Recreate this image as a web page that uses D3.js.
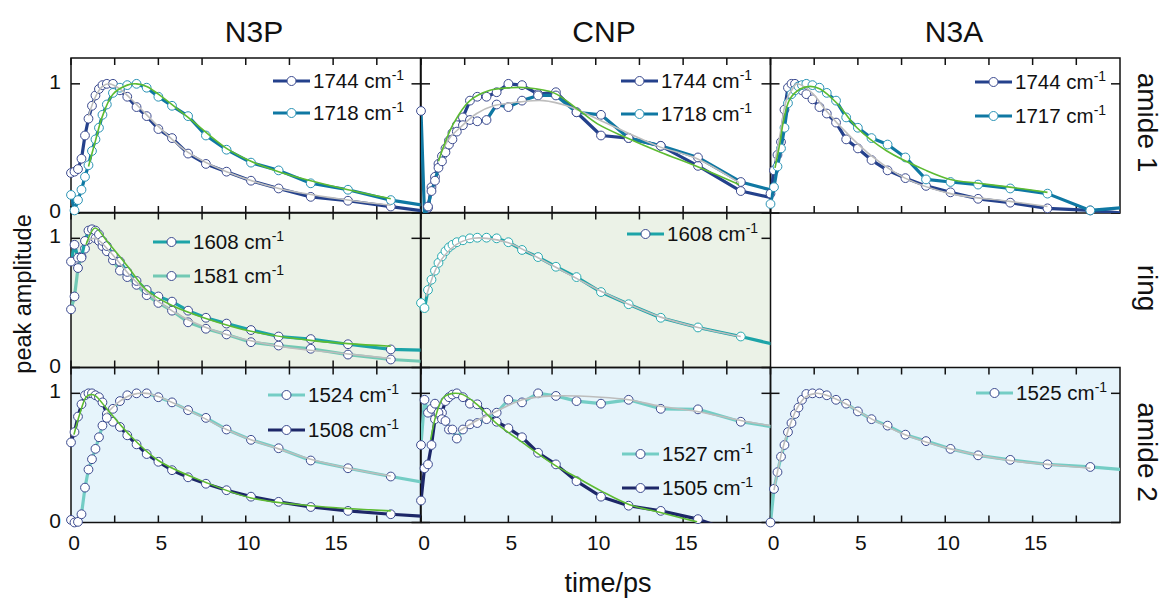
<!DOCTYPE html>
<html>
<head>
<meta charset="utf-8">
<script src="https://cdn.jsdelivr.net/npm/d3@7"></script>
<style>
  body { margin: 0; background: #fff; }
  text { font-family: "Liberation Sans", Arial, Helvetica, sans-serif; fill: #111; }
</style>
</head>
<body>
<div id="chart"></div>
<script>
// shared delay grid (ps)
const times = [0, 0.2, 0.4, 0.6, 0.8, 1.0, 1.2, 1.4, 1.6, 1.8, 2.05, 2.4, 2.8, 3.22, 3.75, 4.33, 5.0, 5.78, 6.7, 7.72, 8.9, 10.3, 11.88, 13.72, 15.85, 18.3, 21.1];

const colTitles = ["N3P", "CNP", "N3A"];
const rowTitles = ["amide 1", "ring", "amide 2"];
const xTicks = [0, 2.5, 5, 7.5, 10, 12.5, 15, 17.5];
const xTickLabels = [0, 5, 10, 15];
const yTickLabels = [0, 1];

// N3P amide 1
const n3pA1_1744 = [0.31, 0.32, 0.34, 0.42, 0.6, 0.73, 0.83, 0.91, 0.96, 0.99, 1.0, 1.0, 0.95, 0.9, 0.82, 0.75, 0.65, 0.58, 0.46, 0.38, 0.32, 0.25, 0.19, 0.125, 0.095, 0.05, 0.0];
const n3pA1_1718 = [0.14, 0.02, 0.1, 0.18, 0.28, 0.37, 0.48, 0.57, 0.66, 0.76, 0.84, 0.93, 0.97, 0.99, 1.0, 0.97, 0.9, 0.83, 0.75, 0.6, 0.49, 0.39, 0.33, 0.23, 0.18, 0.1, 0.04];
const n3pA1FitGrayT = [1.0, 1.4, 1.8, 2.2, 2.8, 3.75, 5.0, 6.7, 8.9, 11.9, 15.85, 18.3];
const n3pA1FitGrayV = [0.75, 0.9, 0.98, 1.0, 0.96, 0.84, 0.67, 0.47, 0.32, 0.19, 0.1, 0.06];
const n3pA1FitGreenT = [1.0, 1.4, 1.8, 2.4, 3.22, 3.75, 4.33, 5.0, 6.7, 8.9, 10.3, 11.88, 13.72, 15.85, 18.3];
const n3pA1FitGreenV = [0.36, 0.56, 0.75, 0.92, 0.99, 1.0, 0.98, 0.92, 0.74, 0.5, 0.4, 0.32, 0.25, 0.18, 0.11];

// CNP amide 1
const cnpA1_1744 = [null, -0.05, 0.04, 0.2, 0.28, 0.38, 0.44, 0.5, 0.56, 0.62, 0.68, 0.74, 0.87, 0.9, 0.9, 0.935, 1.0, 0.99, 0.92, 0.935, 0.78, 0.6, 0.58, 0.52, 0.365, 0.17, 0.087];
const cnpA1_1718 = [0.79, -0.02, 0.05, 0.17, 0.25, 0.35, 0.4, 0.47, 0.53, 0.57, 0.63, 0.68, 0.72, 0.71, 0.72, 0.84, 0.82, 0.87, 0.91, 0.91, 0.78, 0.76, 0.58, 0.52, 0.43, 0.24, 0.14];
const cnpA1FitGreenT = [1.0, 1.28, 1.85, 2.8, 3.95, 5.1, 6.05, 7.6, 8.9, 10.1, 11.8, 13.7, 15.8, 18.2];
const cnpA1FitGreenV = [0.4, 0.51, 0.69, 0.87, 0.95, 0.97, 0.97, 0.93, 0.81, 0.69, 0.58, 0.47, 0.36, 0.22];
const cnpA1FitGrayT = [1.2, 1.66, 2.23, 3.19, 4.15, 5.67, 7.0, 8.35, 10.3, 12.0, 13.7, 15.8, 18.2];
const cnpA1FitGrayV = [0.48, 0.585, 0.66, 0.77, 0.83, 0.86, 0.87, 0.83, 0.715, 0.61, 0.51, 0.42, 0.235];

// N3A amide 1
const n3aA1_1744 = [0.15, 0.33, 0.45, 0.55, 0.8, 0.97, 1.0, 1.0, 0.98, 0.95, 0.92, 0.88, 0.82, 0.77, 0.7, 0.57, 0.5, 0.41, 0.33, 0.27, 0.21, 0.16, 0.11, 0.08, 0.036, 0.02, -0.01];
const n3aA1_1717 = [0.07, 0.2, 0.36, 0.5, 0.66, 0.85, 0.92, 0.95, 0.98, 0.99, 1.0, 0.99, 0.97, 0.93, 0.87, 0.74, 0.66, 0.58, 0.53, 0.43, 0.26, 0.24, 0.22, 0.19, 0.15, 0.02, 0.053];
const n3aA1FitGrayT = [0.26, 0.55, 0.9, 1.3, 1.5, 1.9, 2.45, 3.2, 4.36, 5.8, 7.7, 10.3, 13.7, 15.85];
const n3aA1FitGrayV = [0.4, 0.61, 0.87, 0.97, 1.0, 0.98, 0.92, 0.79, 0.62, 0.44, 0.27, 0.15, 0.09, 0.05];
const n3aA1FitGreenT = [0.26, 0.55, 0.74, 1.1, 1.7, 2.26, 2.84, 3.8, 4.95, 6.66, 8.9, 10.3, 11.9, 13.7, 15.85];
const n3aA1FitGreenV = [0.35, 0.55, 0.71, 0.88, 0.96, 0.98, 0.96, 0.85, 0.66, 0.48, 0.33, 0.26, 0.23, 0.2, 0.16];

// N3P ring
const n3pR_1608 = [0.82, 0.95, 0.85, 0.85, 0.98, 1.06, 1.07, 1.06, 1.03, 0.98, 0.94, 0.87, 0.82, 0.74, 0.67, 0.6, 0.55, 0.51, 0.44, 0.385, 0.34, 0.29, 0.24, 0.22, 0.18, 0.14, 0.13];
const n3pR_1581 = [0.45, 0.55, 0.77, 0.86, 0.92, 0.99, 1.02, 1.0, 0.98, 0.94, 0.9, 0.83, 0.75, 0.7, 0.64, 0.56, 0.5, 0.44, 0.35, 0.3, 0.256, 0.196, 0.17, 0.145, 0.1, 0.062, 0.04];
const n3pRFitGreenT = [0.86, 1.38, 2.05, 3.2, 4.33, 5.78, 7.72, 10.3, 13.7, 15.85, 18.3];
const n3pRFitGreenV = [0.95, 1.08, 0.98, 0.79, 0.6, 0.48, 0.38, 0.28, 0.21, 0.185, 0.165];
const n3pRFitGrayT = [0.9, 1.38, 2.2, 3.6, 5.0, 6.7, 8.9, 11.9, 15.85, 18.3];
const n3pRFitGrayV = [0.97, 1.0, 0.9, 0.68, 0.51, 0.37, 0.256, 0.165, 0.105, 0.07];

// CNP ring
const cnpR_1608 = [0.5, 0.46, 0.6, 0.68, 0.75, 0.81, 0.86, 0.9, 0.93, 0.95, 0.97, 0.985, 1.0, 1.005, 1.005, 1.0, 0.97, 0.91, 0.855, 0.78, 0.7, 0.584, 0.49, 0.385, 0.31, 0.24, 0.15];
const cnpRFitGrayT = [0.3, 1.0, 2.0, 3.0, 3.75, 5.0, 6.7, 8.9, 10.3, 11.88, 13.72, 15.85, 18.3];
const cnpRFitGrayV = [0.55, 0.8, 0.95, 1.0, 1.0, 0.965, 0.85, 0.69, 0.59, 0.49, 0.39, 0.31, 0.24];

// N3P amide 2
const n3pA2_1524 = [0.02, 0.0, 0.005, 0.064, 0.27, 0.41, 0.49, 0.57, 0.66, 0.75, 0.81, 0.88, 0.94, 0.985, 1.0, 1.0, 0.97, 0.93, 0.87, 0.81, 0.72, 0.64, 0.575, 0.48, 0.42, 0.356, 0.29];
const n3pA2_1508 = [0.62, 0.7, 0.82, 0.915, 0.985, 1.0, 1.0, 0.985, 0.97, 0.93, 0.84, 0.78, 0.74, 0.675, 0.605, 0.53, 0.47, 0.405, 0.35, 0.3, 0.25, 0.2, 0.16, 0.12, 0.09, 0.064, 0.04];
const n3pA2FitGreenT = [0.17, 0.5, 0.86, 1.1, 1.4, 2.05, 3.2, 5.0, 7.72, 10.3, 13.7, 18.3];
const n3pA2FitGreenV = [0.68, 0.84, 0.97, 0.99, 0.98, 0.88, 0.7, 0.48, 0.31, 0.19, 0.13, 0.09];
const n3pA2FitGrayT = [2.0, 2.8, 3.5, 4.33, 5.0, 6.7, 8.9, 10.3, 11.88, 13.72, 15.85, 18.3];
const n3pA2FitGrayV = [0.84, 0.94, 0.99, 1.0, 0.975, 0.87, 0.72, 0.64, 0.57, 0.49, 0.42, 0.36];

// CNP amide 2
const cnpA2_1527 = [0.6, 0.95, 0.85, 0.88, 0.92, 0.85, 0.8, 0.786, 0.72, 0.72, 0.65, 0.72, 0.76, 0.77, 0.8, 0.85, 0.95, 0.93, 1.0, 0.98, 0.94, 0.92, 0.95, 0.88, 0.876, 0.78, 0.72];
const cnpA2_1505 = [0.17, 0.42, 0.45, 0.6, 0.8, 0.84, 0.85, 0.94, 0.97, 0.99, 1.0, 0.97, 0.92, 0.915, 0.85, 0.78, 0.73, 0.66, 0.54, 0.45, 0.32, 0.2, 0.13, 0.09, 0.026, -0.09, -0.2];
const cnpA2FitGreenT = [0.55, 0.9, 1.3, 1.85, 2.4, 3.2, 4.3, 5.8, 7.7, 8.9, 10.3, 11.9, 13.7, 15.8];
const cnpA2FitGreenV = [0.64, 0.85, 0.97, 1.0, 0.99, 0.915, 0.77, 0.62, 0.44, 0.35, 0.245, 0.14, 0.077, 0.005];
const cnpA2FitGrayT = [2.2, 3.2, 4.3, 5.8, 7.6, 10.3, 11.9, 13.7, 15.8, 18.3, 20];
const cnpA2FitGrayV = [0.71, 0.79, 0.86, 0.95, 0.98, 0.97, 0.95, 0.9, 0.86, 0.79, 0.75];

// N3A amide 2
const n3aA2_1525 = [0, 0.26, 0.39, 0.51, 0.6, 0.7, 0.77, 0.84, 0.89, 0.95, 0.995, 1.0, 1.0, 0.985, 0.95, 0.92, 0.86, 0.8, 0.75, 0.68, 0.63, 0.57, 0.52, 0.485, 0.45, 0.43, 0.4];
const n3aA2FitGrayT = [0.2, 0.6, 1.0, 1.5, 2.0, 2.6, 3.2, 4.3, 5.8, 7.7, 10.3, 13.7, 15.85, 18.3];
const n3aA2FitGrayV = [0.25, 0.52, 0.71, 0.88, 0.97, 1.0, 0.985, 0.92, 0.8, 0.68, 0.57, 0.48, 0.45, 0.42];

// colours
const c1744 = "#24418c", c1718 = "#0f78a3", c1608 = "#1ca4a8", c1581 = "#72c9b4",
    c1524 = "#74cdc5", c1508 = "#1d2768", cGreen = "#5dbb32", cGray = "#bdbdbd",
    cNavyMk = "#3b4a8f", cTealMk = "#2a93b5", cRingMk = "#2aaab0";
const bgRing = "#ebf2e7", bgAmide2 = "#e6f4fb";

const W = 1166, H = 601;
const colX = [71, 421, 770.5], colW = 349.5;
const rowY = [58, 212.5, 367.5], rowH = 155;

function zip(t, v) {
    return t.map(function (d, i) { return [d, v[i]]; });
}

var panels = [
    {col: 0, row: 0, bg: "#fff",
        series: [{v: n3pA1_1744, color: c1744, mk: cNavyMk}, {v: n3pA1_1718, color: c1718, mk: cTealMk}],
        fits: [{d: zip(n3pA1FitGrayT, n3pA1FitGrayV), color: cGray}, {d: zip(n3pA1FitGreenT, n3pA1FitGreenV), color: cGreen}],
        legend: {x: 273, y: [81, 113], items: [["1744", c1744, cNavyMk], ["1718", c1718, cTealMk]]}},
    {col: 1, row: 0, bg: "#fff",
        series: [{v: cnpA1_1744, color: c1744, mk: cNavyMk}, {v: cnpA1_1718, color: c1718, mk: cNavyMk}],
        fits: [{d: zip(cnpA1FitGrayT, cnpA1FitGrayV), color: cGray}, {d: zip(cnpA1FitGreenT, cnpA1FitGreenV), color: cGreen}],
        legend: {x: 621, y: [81, 114], items: [["1744", c1744, cNavyMk], ["1718", c1718, cTealMk]]}},
    {col: 2, row: 0, bg: "#fff",
        series: [{v: n3aA1_1744, color: c1744, mk: cNavyMk}, {v: n3aA1_1717, color: c1718, mk: cTealMk}],
        fits: [{d: zip(n3aA1FitGrayT, n3aA1FitGrayV), color: cGray}, {d: zip(n3aA1FitGreenT, n3aA1FitGreenV), color: cGreen}],
        legend: {x: 975, y: [82, 116], items: [["1744", c1744, cNavyMk], ["1717", c1718, cTealMk]]}},
    {col: 0, row: 1, bg: bgRing,
        series: [{v: n3pR_1581, color: c1581, mk: cNavyMk}, {v: n3pR_1608, color: c1608, mk: cNavyMk}],
        fits: [{d: zip(n3pRFitGrayT, n3pRFitGrayV), color: cGray}, {d: zip(n3pRFitGreenT, n3pRFitGreenV), color: cGreen}],
        legend: {x: 153, y: [242, 276], items: [["1608", c1608, cNavyMk], ["1581", c1581, cNavyMk]]}},
    {col: 1, row: 1, bg: bgRing,
        series: [{v: cnpR_1608, color: c1608, mk: cRingMk}],
        fits: [{d: zip(cnpRFitGrayT, cnpRFitGrayV), color: cGray}],
        legend: {x: 627, y: [234], items: [["1608", c1608, cNavyMk]]}},
    {col: 0, row: 2, bg: bgAmide2,
        series: [{v: n3pA2_1508, color: c1508, mk: cNavyMk}, {v: n3pA2_1524, color: c1524, mk: cNavyMk}],
        fits: [{d: zip(n3pA2FitGrayT, n3pA2FitGrayV), color: cGray}, {d: zip(n3pA2FitGreenT, n3pA2FitGreenV), color: cGreen}],
        legend: {x: 268, y: [395, 430], items: [["1524", c1524, cNavyMk], ["1508", c1508, cNavyMk]]}},
    {col: 1, row: 2, bg: bgAmide2,
        series: [{v: cnpA2_1505, color: c1508, mk: cNavyMk}, {v: cnpA2_1527, color: c1524, mk: cNavyMk}],
        fits: [{d: zip(cnpA2FitGrayT, cnpA2FitGrayV), color: cGray}, {d: zip(cnpA2FitGreenT, cnpA2FitGreenV), color: cGreen}],
        legend: {x: 622, y: [454, 488], items: [["1527", c1524, cNavyMk], ["1505", c1508, cNavyMk]]}},
    {col: 2, row: 2, bg: bgAmide2,
        series: [{v: n3aA2_1525, color: c1524, mk: cNavyMk}],
        fits: [{d: zip(n3aA2FitGrayT, n3aA2FitGrayV), color: cGray}],
        legend: {x: 976, y: [393], items: [["1525", c1524, cNavyMk]]}}
];

const svg = d3.select("#chart")
    .append("svg")
    .attr("width", W)
    .attr("height", H);

const defs = svg.append("defs");

// scales per panel
panels.forEach(function (p, i) {
    p.x = d3.scaleLinear().domain([0, 20]).range([colX[p.col], colX[p.col] + colW]);
    p.y = d3.scaleLinear().domain([0, 1.2]).range([rowY[p.row] + rowH, rowY[p.row]]);
    defs.append("clipPath").attr("id", "clip" + i)
        .append("rect")
        .attr("x", colX[p.col]).attr("y", rowY[p.row])
        .attr("width", colW).attr("height", rowH);
});

// backgrounds
svg.selectAll("rect.bg")
    .data(panels)
    .enter().append("rect")
    .attr("class", "bg")
    .attr("x", function (p) { return colX[p.col]; })
    .attr("y", function (p) { return rowY[p.row]; })
    .attr("width", colW)
    .attr("height", rowH)
    .attr("fill", function (p) { return p.bg; });

// frames + ticks (mirrored, inward)
panels.forEach(function (p) {
    var g = svg.append("g").attr("class", "frame");
    var x0 = colX[p.col], x1 = x0 + colW, y0 = rowY[p.row], y1 = y0 + rowH;
    g.append("rect")
        .attr("x", x0).attr("y", y0).attr("width", colW).attr("height", rowH)
        .attr("fill", "none").attr("stroke", "#111").attr("stroke-width", 1.5);
    xTicks.forEach(function (t) {
        var xx = p.x(t);
        g.append("line").attr("x1", xx).attr("x2", xx).attr("y1", y1).attr("y2", y1 - 7);
        g.append("line").attr("x1", xx).attr("x2", xx).attr("y1", y0).attr("y2", y0 + 7);
    });
    yTickLabels.forEach(function (v) {
        var yy = p.y(v);
        g.append("line").attr("x1", x0).attr("x2", x0 + 9).attr("y1", yy).attr("y2", yy);
        g.append("line").attr("x1", x1).attr("x2", x1 - 9).attr("y1", yy).attr("y2", yy);
    });
    g.selectAll("line").attr("stroke", "#111").attr("stroke-width", 1.5);
});

// data, fits, legends
panels.forEach(function (p, i) {
    var g = svg.append("g").attr("class", "data");
    var lineGen = d3.line()
        .defined(function (d) { return d[1] != null; })
        .x(function (d) { return p.x(d[0]); })
        .y(function (d) { return p.y(d[1]); });
    var fitGen = d3.line()
        .curve(d3.curveCatmullRom)
        .x(function (d) { return p.x(d[0]); })
        .y(function (d) { return p.y(d[1]); });

    p.series.forEach(function (s) {
        var pts = zip(times, s.v);
        g.append("path")
            .attr("d", lineGen(pts))
            .attr("clip-path", "url(#clip" + i + ")")
            .attr("fill", "none")
            .attr("stroke", s.color)
            .attr("stroke-width", 3.2)
            .attr("stroke-linejoin", "round");
        g.selectAll(null)
            .data(pts.filter(function (d) { return d[1] != null && d[0] <= 20 && d[1] >= 0; }))
            .enter().append("circle")
            .attr("cx", function (d) { return p.x(d[0]); })
            .attr("cy", function (d) { return p.y(d[1]); })
            .attr("r", 4.4)
            .attr("fill", "#fff")
            .attr("stroke", s.mk)
            .attr("stroke-width", 1);
    });

    p.fits.forEach(function (f) {
        g.append("path")
            .attr("d", fitGen(f.d))
            .attr("clip-path", "url(#clip" + i + ")")
            .attr("fill", "none")
            .attr("stroke", f.color)
            .attr("stroke-width", 1.6);
    });

    // legend
    var lg = svg.append("g").attr("class", "legend");
    p.legend.items.forEach(function (it, k) {
        var lx = p.legend.x, ly = p.legend.y[k];
        lg.append("line")
            .attr("x1", lx).attr("x2", lx + 37).attr("y1", ly).attr("y2", ly)
            .attr("stroke", it[1]).attr("stroke-width", 3.2);
        lg.append("circle")
            .attr("cx", lx + 18.5).attr("cy", ly).attr("r", 4.5)
            .attr("fill", "#fff").attr("stroke", it[2]).attr("stroke-width", 1);
        var tx = lg.append("text")
            .attr("x", lx + 40).attr("y", ly + 7)
            .style("font-size", "20.5px");
        tx.append("tspan").text(it[0] + " cm");
        tx.append("tspan").attr("dy", -8.5).style("font-size", "14px").text("-1");
    });
});

// y tick labels (first column)
rowY.forEach(function (ry) {
    var y = d3.scaleLinear().domain([0, 1.2]).range([ry + rowH, ry]);
    yTickLabels.forEach(function (v) {
        svg.append("text")
            .attr("x", 55)
            .attr("y", y(v) + 5)
            .attr("text-anchor", "middle")
            .style("font-size", "21px")
            .text(v);
    });
});

// x tick labels (bottom row)
colX.forEach(function (cx) {
    var x = d3.scaleLinear().domain([0, 20]).range([cx, cx + colW]);
    xTickLabels.forEach(function (v) {
        svg.append("text")
            .attr("x", x(v) + 3)
            .attr("y", 550)
            .attr("text-anchor", "middle")
            .style("font-size", "21px")
            .text(v);
    });
});

// column titles
colTitles.forEach(function (t, c) {
    svg.append("text")
        .attr("x", 254 + c * 350)
        .attr("y", 41.5)
        .attr("text-anchor", "middle")
        .style("font-size", "30px")
        .text(t);
});

// row titles (right side, rotated)
var rowCenters = [122.5, 288, 452];
rowTitles.forEach(function (t, r) {
    svg.append("text")
        .attr("transform", "translate(1138," + rowCenters[r] + ") rotate(90)")
        .attr("text-anchor", "middle")
        .style("font-size", "28px")
        .text(t);
});

// axis titles
svg.append("text")
    .attr("transform", "translate(31,294) rotate(-90)")
    .attr("text-anchor", "middle")
    .style("font-size", "23.5px")
    .text("peak amplitude");

svg.append("text")
    .attr("x", 608)
    .attr("y", 591.5)
    .attr("text-anchor", "middle")
    .style("font-size", "27px")
    .text("time/ps");
</script>
</body>
</html>
